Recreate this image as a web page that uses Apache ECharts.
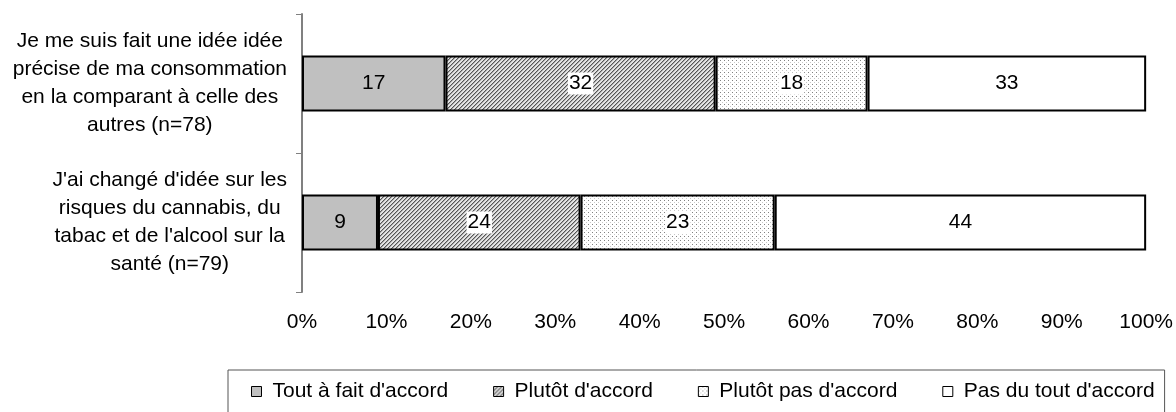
<!DOCTYPE html>
<html>
<head>
<meta charset="utf-8">
<script src="https://cdn.jsdelivr.net/npm/echarts@6/dist/echarts.min.js"></script>
<style>
    html, body { margin: 0; padding: 0; background: #fff; }
    #chart { width: 1176px; height: 412px; }
</style>
</head>
<body>
<div id="chart"></div>
<script>
// données (en %)
const categories = [
    "Je me suis fait une idée idée\nprécise de ma consommation\nen la comparant à celle des\nautres (n=78)",
    "J'ai changé d'idée sur les\nrisques du cannabis, du\ntabac et de l'alcool sur la\nsanté (n=79)"
];
const seriesNames = ["Tout à fait d'accord", "Plutôt d'accord", "Plutôt pas d'accord", "Pas du tout d'accord"];
const toutAFait = [17, 9];
const plutotAccord = [32, 24];
const plutotPas = [18, 23];
const pasDuTout = [33, 44];

const FONT = "'Liberation Sans', Arial, sans-serif";

// petits motifs façon Excel
function makeTile(size, draw) {
    let c = document.createElement('canvas');
    c.width = size;
    c.height = size;
    draw(c.getContext('2d'));
    return c;
}
let hatch = makeTile(4, function (ctx) {
    ctx.fillStyle = '#e4e4e4';
    ctx.fillRect(0, 0, 4, 4);
    for (let x = 0; x < 4; x++) {
        for (let y = 0; y < 4; y++) {
            if ((x + y) % 4 === 3) { ctx.fillStyle = '#555'; ctx.fillRect(x, y, 1, 1); }
            if ((x + y) % 4 === 0) { ctx.fillStyle = '#a8a8a8'; ctx.fillRect(x, y, 1, 1); }
        }
    }
});
let dots = makeTile(4, function (ctx) {
    ctx.fillStyle = '#fff';
    ctx.fillRect(0, 0, 4, 4);
    ctx.fillStyle = '#808080';
    ctx.fillRect(0, 0, 1, 1);
    ctx.fillStyle = '#c8c8c8';
    ctx.fillRect(2, 2, 1, 1);
});

const fills = [
    '#c0c0c0',
    {image: hatch, repeat: 'repeat'},
    {image: dots, repeat: 'repeat'},
    '#ffffff'
];
const values = [toutAFait, plutotAccord, plutotPas, pasDuTout];

let series = [];
for (let i = 0; i < seriesNames.length; i++) {
    series.push({
        name: seriesNames[i],
        type: 'bar',
        stack: 'total',
        barWidth: 56,
        data: values[i],
        itemStyle: {
            color: fills[i],
            borderColor: '#000',
            borderWidth: 2
        },
        label: {
            show: true,
            position: 'inside',
            color: '#000',
            fontFamily: FONT,
            fontSize: 21,
            backgroundColor: (i === 1 || i === 2) ? '#fff' : 'transparent',
            padding: [1, 1, 0, 1]
        },
        emphasis: {disabled: true}
    });
}

let myChart = echarts.init(document.getElementById('chart'));
let option = {
    animation: false,
    textStyle: {fontFamily: FONT},
    grid: {left: 302, right: 26, top: 14, bottom: 120},
    xAxis: {
        type: 'value',
        min: 0,
        max: 100,
        interval: 10,
        axisLine: {show: false},
        axisTick: {show: false},
        splitLine: {show: false},
        axisLabel: {
            formatter: '{value}%',
            color: '#000',
            fontFamily: FONT,
            fontSize: 21,
            margin: 20
        }
    },
    yAxis: {
        type: 'category',
        inverse: true,
        data: categories,
        axisLine: {show: true, lineStyle: {color: '#808080', width: 2}},
        axisTick: {show: true, length: 6, lineStyle: {color: '#808080', width: 1}},
        axisLabel: {
            margin: 15,
            align: 'right',
            formatter: function (v) {
                return v.split('\n').map(function (l) { return '{c|' + l + '}'; }).join('\n');
            },
            rich: {
                c: {
                    align: 'center',
                    color: '#000',
                    fontFamily: FONT,
                    fontSize: 21,
                    lineHeight: 28
                }
            }
        }
    },
    legend: {
        left: 228,
        top: 370,
        padding: [11, 10, 11, 23],
        itemGap: 45,
        itemWidth: 10,
        itemHeight: 10,
        icon: 'rect',
        borderColor: '#555',
        borderWidth: 1,
        itemStyle: {borderColor: '#000', borderWidth: 1},
        textStyle: {
            color: '#000',
            fontFamily: FONT,
            fontSize: 21,
            padding: [0, 0, 0, 6]
        },
        data: seriesNames
    },
    series: series
};
myChart.setOption(option);
</script>
</body>
</html>
